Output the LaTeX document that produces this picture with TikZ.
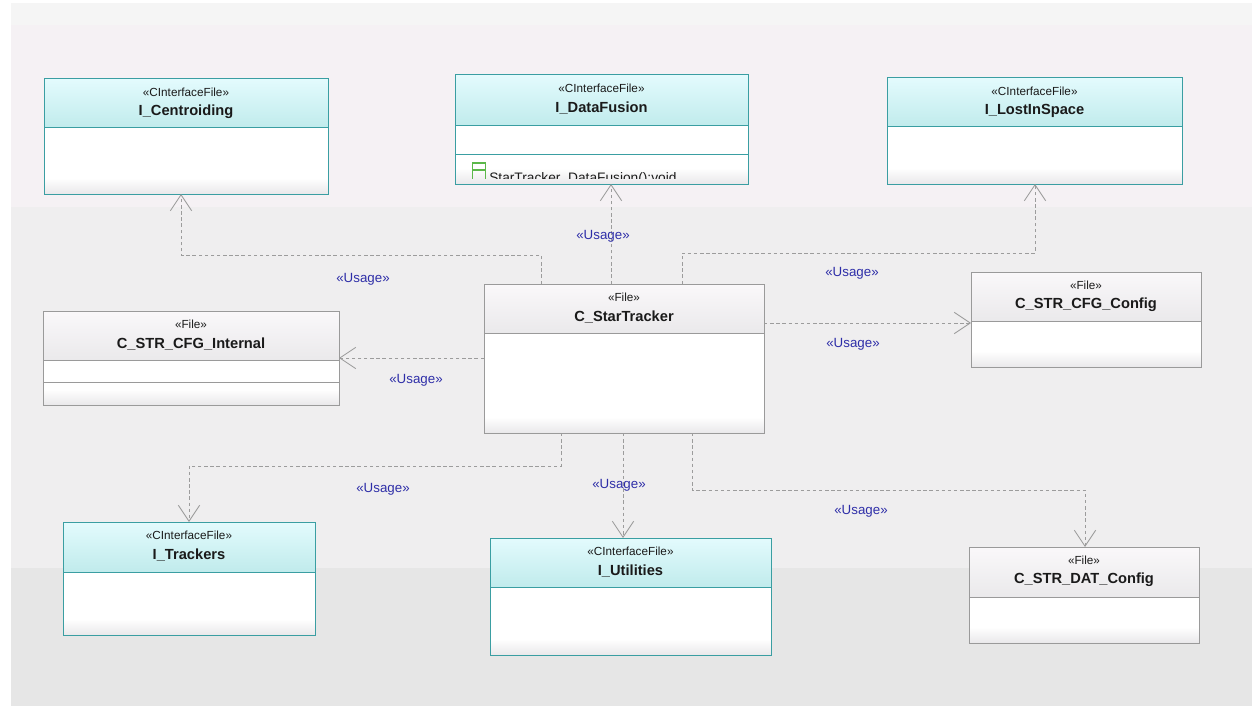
\documentclass[tikz,border=0pt]{standalone}
\usepackage{fontspec}
\setmainfont{Liberation Sans}
\usetikzlibrary{arrows.meta}
\definecolor{cyTop}{HTML}{E3FBFD}
\definecolor{cyBot}{HTML}{C0EBEC}
\definecolor{cyLine}{HTML}{3A9EA2}
\definecolor{grTop}{HTML}{FAF8FA}
\definecolor{grBot}{HTML}{EAE9EB}
\definecolor{grLine}{HTML}{9A9A9A}
\definecolor{bodyBot}{HTML}{E9E8EA}
\definecolor{bandA}{HTML}{F5F5F5}
\definecolor{bandB}{HTML}{F5F1F4}
\definecolor{bandC}{HTML}{EFEEEF}
\definecolor{bandD}{HTML}{E6E6E6}
\definecolor{connGray}{HTML}{9C9C9C}
\definecolor{usageBlue}{HTML}{2E2EA8}
\definecolor{txtDark}{HTML}{1A1A1A}
\definecolor{methGreen}{HTML}{5CB84A}
\tikzset{
  usage/.style={draw=connGray, line width=0.75pt, dash pattern=on 2.6pt off 2pt,
    -{Straight Barb[length=12pt,width=16pt,line width=0.65pt]}},
  usagelbl/.style={text=usageBlue, font=\fontsize{10}{12}\selectfont, inner sep=1pt},
  stereo/.style={text=txtDark, font=\fontsize{8.8}{10}\selectfont, inner sep=0pt},
  clsname/.style={text=txtDark, font=\fontsize{11}{13}\selectfont\bfseries, inner sep=0pt},
  clsframe/.style={line width=0.75pt, inner sep=0pt, outer sep=0pt, anchor=north west},
}
% #1 name, #2 x1, #3 y1, #4 x2, #5 y2, #6 header bottom, #7 kind (cy/gr), #8 stereotype, #9 title
\newcommand\umlcls[9]{%
  \shade[top color=#7Top,bottom color=#7Bot] (#2,-#3) rectangle (#4,-#6);
  \fill[white] (#2,-#6) rectangle (#4,-#5);
  \shade[top color=white,bottom color=bodyBot] (#2,{16-#5}) rectangle (#4,-#5);
  \draw[#7Line, line width=0.75pt] (#2,-#6) -- (#4,-#6);
  \node[clsframe, draw=#7Line, minimum width={(#4-#2)*0.75pt}, minimum height={(#5-#3)*0.75pt}] (#1) at (#2,-#3) {};
  \node[stereo] (#1s) at ({(#2+#4)/2},{-#3-13}) {«#8»};
  \node[clsname] (#1n) at ({(#2+#4)/2},{-#3-33}) {#9};
}
\begin{document}
\begin{tikzpicture}[x=0.75pt,y=0.75pt]
\useasboundingbox (0,0) rectangle (1252,-706);
\fill[white] (0,0) rectangle (1252,-706);
\fill[bandA] (11,-3) rectangle (1252,-25);
\fill[bandB] (11,-25) rectangle (1252,-207);
\fill[bandC] (11,-207) rectangle (1252,-568);
\fill[bandD] (11,-568) rectangle (1252,-706);

% classes
\umlcls{cen}{44}{79}{328}{194}{128}{cy}{CInterfaceFile}{I\_Centroiding}
\umlcls{df}{455}{75}{748}{184}{126}{cy}{CInterfaceFile}{I\_DataFusion}
\umlcls{lis}{887}{78}{1182}{184}{127}{cy}{CInterfaceFile}{I\_LostInSpace}
\umlcls{st}{484}{284}{764}{433}{333}{gr}{File}{C\_StarTracker}
\umlcls{cfgi}{43}{311}{339}{405}{360}{gr}{File}{C\_STR\_CFG\_Internal}
\umlcls{cfgc}{971}{272}{1201}{367}{321}{gr}{File}{C\_STR\_CFG\_Config}
\umlcls{trk}{63}{522}{315}{635}{572}{cy}{CInterfaceFile}{I\_Trackers}
\umlcls{utl}{490}{538}{771}{655}{587}{cy}{CInterfaceFile}{I\_Utilities}
\umlcls{dat}{969}{547}{1199}{643}{597}{gr}{File}{C\_STR\_DAT\_Config}

% extra compartments
\draw[cyLine, line width=0.75pt] (455,-155) -- (748,-155);
\draw[grLine, line width=0.75pt] (43,-382) -- (339,-382);
\begin{scope}
  \clip (456,-156) rectangle (747,-178.5);
  \draw[methGreen, line width=0.8pt] (472.5,-163) rectangle (485.5,-182);
  \draw[methGreen, line width=0.8pt] (472.5,-170) -- (485.5,-170);
  \node[anchor=base west, inner sep=0pt, text=txtDark, font=\fontsize{10.3}{12}\selectfont] (dfm) at (489,-182) {StarTracker\_DataFusion():void};
\end{scope}

% connectors
\draw[usage] (st.north -| 541,0) -- (541,-255) -- (181,-255) -- (cen.south -| 181,0);
\draw[usage] (st.north -| 611,0) -- (df.south -| 611,0);
\draw[usage] (st.north -| 682,0) -- (682,-253) -- (1035,-253) -- (lis.south -| 1035,0);
\draw[usage] (st.east |- 0,-323) -- (cfgc.west |- 0,-323);
\draw[usage] (st.west |- 0,-358) -- (cfgi.east |- 0,-358);
\draw[usage] (st.south -| 561,0) -- (561,-466) -- (189,-466) -- (trk.north -| 189,0);
\draw[usage] (st.south -| 623,0) -- (utl.north -| 623,0);
\draw[usage] (st.south -| 692,0) -- (692,-490) -- (1085,-490) -- (dat.north -| 1085,0);

% labels
\node[usagelbl] (u1) at (363,-279) {«Usage»};
\node[usagelbl] (u2) at (603,-236) {«Usage»};
\node[usagelbl] (u3) at (852,-273) {«Usage»};
\node[usagelbl] (u4) at (853,-344) {«Usage»};
\node[usagelbl] (u5) at (416,-380) {«Usage»};
\node[usagelbl] (u6) at (383,-489) {«Usage»};
\node[usagelbl] (u7) at (619,-485) {«Usage»};
\node[usagelbl] (u8) at (861,-511) {«Usage»};
\end{tikzpicture}
\end{document}
